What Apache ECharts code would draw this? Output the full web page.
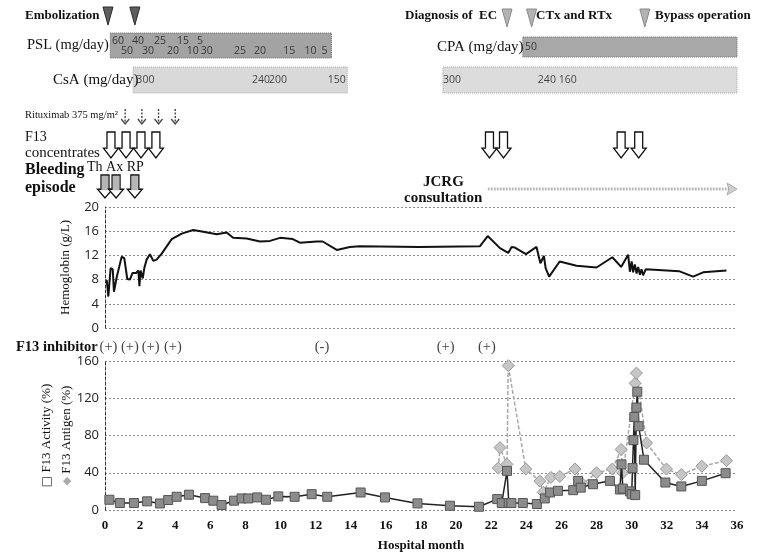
<!DOCTYPE html>
<html>
<head>
<meta charset="utf-8">
<script src="https://cdn.jsdelivr.net/npm/echarts@6/dist/echarts.min.js"></script>
<style>
  html, body { margin: 0; padding: 0; background: #fff; }
  #chart { width: 763px; height: 553px; }
</style>
</head>
<body>
<div id="chart"></div>
<script>
// ---- Clinical course data (time in hospital months) ----
const monthMin = 0, monthMax = 36, monthStep = 2;

// Hemoglobin (g/L)
const hbMonths = [0.1,0.19,0.32,0.44,0.51,0.66,0.95,1.1,1.27,1.42,1.57,1.77,1.9,1.96,2.03,2.15,2.24,2.37,2.47,2.56,2.75,2.94,3.23,3.8,4.37,5.03,5.6,6.36,6.93,7.3,8.07,8.83,9.4,9.97,10.7,11.1,12.06,12.4,13.2,13.95,14.5,17.9,21.35,21.8,22.5,22.97,23.16,23.35,23.98,24.58,24.8,24.9,25.0,25.1,25.3,25.9,26.86,28.0,28.9,29.4,29.8,29.9,30.0,30.08,30.18,30.28,30.37,30.47,30.56,30.65,30.8,32.7,33.5,34.07,35.4];
const hbValues = [7.9,5.2,9.9,9.7,6.0,8.3,11.8,11.5,8.1,8.0,9.1,9.1,9.5,6.9,9.5,8.2,9.9,11.3,11.2,12.2,11.1,11.3,12.3,14.7,15.6,16.2,15.9,15.5,15.8,14.9,14.8,14.3,14.4,14.9,14.7,14.1,14.3,14.3,12.9,13.4,13.5,13.4,13.5,15.2,13.2,12.4,13.4,13.3,12.2,13.4,10.7,10.4,11.9,9.9,8.5,11.0,10.3,10.0,11.7,10.1,12.1,9.3,11.0,9.2,10.5,9.0,10.1,8.8,9.7,8.7,9.7,9.4,8.5,9.2,9.5];

// F13 activity (%)
const actMonths = [0.25,0.85,1.65,2.4,3.13,3.6,4.08,4.78,5.7,6.17,6.64,7.35,7.78,8.16,8.67,9.17,9.87,10.8,11.77,12.66,14.56,15.95,17.8,19.65,21.3,22.34,22.6,22.9,23.0,23.15,23.8,24.6,25.05,25.35,25.8,26.67,26.95,27.1,27.8,28.76,29.33,29.42,29.5,29.9,30.0,30.05,30.1,30.15,30.2,30.27,30.32,30.4,30.7,31.92,32.83,34.0,35.35];
const actValues = [11,7.5,7.5,9.3,7,10.7,14.2,16.4,12.8,10,5.3,10,12.4,12.4,13.5,11,14.6,14.2,17,14.2,18.8,13.5,7.1,4.6,3.5,11.7,7.5,42,7.5,7.5,7.5,6.4,12.4,18.8,20.6,21.3,31.3,24,27.7,31.3,22,49,23,20,17,45,75,100,16,110,127,90,54,29.5,25.3,31.3,39.5];

// F13 antigen (%)
const agMonths = [22.4,22.5,22.9,22.97,23.97,24.77,24.96,25.4,25.9,26.77,27.2,28.0,28.9,29.4,29.5,30.2,30.27,30.85,31.98,32.83,34.0,35.4];
const agValues = [45,67,49,155,44,31,19,35,36,44,28,40,44,65,40,136,147,72,44,38,47,53];

// Events and treatments
const embolizationMonths = [0.17, 1.7];
const laterEventMonths = [22.9, 24.3, 30.75];          // diagnosis of EC, CTx and RTx, bypass operation
const pslPeriod = [0.3, 12.9];
const pslDoseMonths = [0.74,1.25,1.88,2.45,3.13,3.87,4.44,5.0,5.41,5.8,7.69,8.83,10.5,11.7,12.5];
const pslDoses = [60,50,40,30,25,20,15,10,5,30,25,20,15,10,5];
const csaPeriods = [[1.6, 13.8], [19.25, 36]];
const csaDoseMonths = [2.3, 8.88, 9.85, 13.2, 19.76, 25.17, 26.36];
const csaDoses = [300, 240, 200, 150, 300, 240, 160];
const cpaPeriod = [23.8, 36];
const cpaDoseMonths = [24.26];
const cpaDoses = [50];
const rituximabMonths = [1.15, 2.1, 3.05, 4.0];
const f13ConcMonths = [0.34, 1.2, 2.05, 2.9, 21.9, 22.7, 29.4, 30.4];
const bleedingMonths = [0, 0.63, 1.7];
const jcrgPeriod = [21.8, 36];
const inhibitorMonths = [0.2, 1.42, 2.6, 3.87, 12.36, 19.4, 21.75];
const inhibitorResults = ['(+)', '(+)', '(+)', '(+)', '(-)', '(+)', '(+)'];

// ---- Drawing ----
const SERIF = '"Liberation Serif", "DejaVu Serif", serif';
const SANS = '"Open Sans", "Liberation Sans", sans-serif';

// Row placement inside the annotation overlay (pixels from the top of the page)
const ROW = {
  darkEvent: [7, 25], lightEvent: [9, 27],
  psl: [33, 58], pslUpper: 41, pslLower: 51,
  csa: [67, 93], csaText: 80,
  cpa: [37, 57], cpaText: 47,
  rituximab: [109, 124], conc: [132, 158], bleed: [175, 198],
  jcrg: 189, inhibitor: 347
};

const pair = (xs, ys) => xs.map((x, i) => [x, ys[i]]);

function band(period, row, fill, stroke) {
  return {
    type: 'custom', xAxisIndex: 0, yAxisIndex: 0, silent: true, z: 2,
    data: [period],
    renderItem: (p, api) => {
      const a = api.coord([api.value(0), row[0]]);
      const b = api.coord([api.value(1), row[1]]);
      return { type: 'rect', shape: { x: a[0], y: a[1], width: b[0] - a[0], height: b[1] - a[1] },
               style: { fill: fill, stroke: stroke, lineWidth: 1, lineDash: [1, 1] } };
    }
  };
}

function textRow(months, texts, y, font) {
  return {
    type: 'scatter', xAxisIndex: 0, yAxisIndex: 0, silent: true, z: 5,
    symbolSize: 1, itemStyle: { color: 'rgba(0,0,0,0)' },
    data: months.map((m, i) => ({ value: [m, y], label: { formatter: String(texts[i]) } })),
    label: Object.assign({ show: true, position: 'inside' }, font)
  };
}

function triangles(months, row, fill, stroke) {
  return {
    type: 'custom', xAxisIndex: 0, yAxisIndex: 0, silent: true, z: 3,
    data: months.map(m => [m, row[0]]),
    renderItem: (p, api) => {
      const t = api.coord([api.value(0), row[0]]);
      const bY = api.coord([api.value(0), row[1]])[1];
      return { type: 'polygon',
        shape: { points: [[t[0] - 5, t[1]], [t[0] + 5, t[1]], [t[0], bY]] },
        style: { fill: fill, stroke: stroke, lineWidth: 1 } };
    }
  };
}

function blockArrows(months, row, shaftFill) {
  return {
    type: 'custom', xAxisIndex: 0, yAxisIndex: 0, silent: true, z: 3,
    data: months.map(m => [m, row[0]]),
    renderItem: (p, api) => {
      const t = api.coord([api.value(0), row[0]]);
      const x = t[0], top = t[1];
      const bottom = api.coord([api.value(0), row[1]])[1];
      const neck = bottom - (bottom - top) * 0.38;
      const children = [{ type: 'polygon',
        shape: { points: [[x - 4, top], [x + 4, top], [x + 4, neck], [x + 7.5, neck], [x, bottom], [x - 7.5, neck], [x - 4, neck]] },
        style: { fill: '#fff', stroke: '#111', lineWidth: 1.3 } }];
      if (shaftFill) {
        children.push({ type: 'rect', shape: { x: x - 3, y: top + 1, width: 6, height: neck - top },
          style: { fill: shaftFill } });
      }
      return { type: 'group', children: children };
    }
  };
}

function thinArrows(months, row) {
  return {
    type: 'custom', xAxisIndex: 0, yAxisIndex: 0, silent: true, z: 3,
    data: months.map(m => [m, row[0]]),
    renderItem: (p, api) => {
      const t = api.coord([api.value(0), row[0]]);
      const bottom = api.coord([api.value(0), row[1]])[1];
      const x = t[0];
      return { type: 'group', children: [
        { type: 'line', shape: { x1: x, y1: t[1], x2: x, y2: bottom },
          style: { stroke: '#444', lineWidth: 1.4, lineDash: [2, 1.5] } },
        { type: 'polyline', shape: { points: [[x - 4, bottom - 5], [x, bottom], [x + 4, bottom - 5]] },
          style: { stroke: '#444', lineWidth: 1.3, fill: null } }
      ] };
    }
  };
}

const jcrgArrow = {
  type: 'custom', xAxisIndex: 0, yAxisIndex: 0, silent: true, z: 3,
  data: [jcrgPeriod],
  renderItem: (p, api) => {
    const a = api.coord([api.value(0), ROW.jcrg]);
    const b = api.coord([api.value(1), ROW.jcrg]);
    return { type: 'group', children: [
      { type: 'line', shape: { x1: a[0], y1: a[1], x2: b[0] - 8, y2: b[1] },
        style: { stroke: '#bdbdbd', lineWidth: 3, lineDash: [2, 1] } },
      { type: 'polygon', shape: { points: [[b[0] - 10, b[1] - 6], [b[0], b[1]], [b[0] - 10, b[1] + 6], [b[0] - 8, b[1]]] },
        style: { fill: '#d0d0d0', stroke: '#aaa', lineWidth: 1 } }
    ] };
  }
};

const bandText = { fontFamily: SANS, fontSize: 10.5, color: '#1a1a1a' };
const pslUpperIdx = pslDoses.map((d, i) => i).filter(i => i < 9 && i % 2 === 0);
const pslLowerIdx = pslDoses.map((d, i) => i).filter(i => !(i < 9 && i % 2 === 0));

// Static caption placed with its left edge at x and vertical middle at y
const txt = (text, x, y, size, bold) => ({
  type: 'text', x: x, y: y, z: 10,
  style: { text: text, font: (bold ? 'bold ' : '') + size + 'px ' + SERIF, fill: '#111',
           verticalAlign: 'middle', textVerticalAlign: 'middle', align: 'left' }
});

const gridLine = { show: true, lineStyle: { color: '#8a8a8a', type: [2, 2], width: 1 } };
const leftAxisLine = { show: true, lineStyle: { color: '#333', type: [3, 2], width: 1 } };

const option = {
  backgroundColor: '#fff',
  animation: false,
  grid: [
    { left: 105, right: 26, top: 0, bottom: 0 },          // annotation overlay
    { left: 105, right: 26, top: 207, height: 121 },        // hemoglobin
    { left: 105, right: 26, top: 361, height: 150 }         // F13
  ],
  xAxis: [
    { gridIndex: 0, type: 'value', min: monthMin, max: monthMax, show: false },
    { gridIndex: 1, type: 'value', min: monthMin, max: monthMax, interval: monthStep,
      axisLine: { show: false }, axisTick: { show: false }, axisLabel: { show: false }, splitLine: { show: false } },
    { gridIndex: 2, type: 'value', min: monthMin, max: monthMax, interval: monthStep,
      axisLine: { show: false }, axisTick: { show: false }, splitLine: { show: false },
      axisLabel: { margin: 9, fontFamily: SERIF, fontWeight: 'bold', fontSize: 13, color: '#111' },
      name: 'Hospital month', nameLocation: 'middle', nameGap: 29, nameMoveOverlap: false,
      nameTextStyle: { fontFamily: SERIF, fontWeight: 'bold', fontSize: 13, color: '#111' } }
  ],
  yAxis: [
    { gridIndex: 0, type: 'value', min: 0, max: 553, inverse: true, show: false },
    { gridIndex: 1, type: 'value', min: 0, max: 20, interval: 4,
      axisLine: leftAxisLine, axisTick: { show: false }, splitLine: gridLine,
      axisLabel: { margin: 6, fontFamily: SANS, fontSize: 13, color: '#222' },
      name: 'Hemoglobin (g/L)', nameLocation: 'middle', nameGap: 33, nameRotate: 90, nameMoveOverlap: false,
      nameTextStyle: { fontFamily: SERIF, fontSize: 13, color: '#111' } },
    { gridIndex: 2, type: 'value', min: 0, max: 160, interval: 40,
      axisLine: leftAxisLine, axisTick: { show: false }, splitLine: gridLine,
      axisLabel: { margin: 6, fontFamily: SANS, fontSize: 13, color: '#222' },
      name: '{sq|□} F13 Activity (%)\n{dm|◆} F13 Antigen (%)', nameLocation: 'middle', nameGap: 28,
      nameRotate: 90, nameMoveOverlap: false,
      nameTextStyle: { fontFamily: SERIF, fontSize: 13, color: '#111', lineHeight: 20,
        rich: { sq: { fontFamily: '"DejaVu Sans"', fontSize: 12, color: '#333' },
                dm: { fontFamily: '"DejaVu Sans"', fontSize: 11, color: '#aaa' } } } }
  ],
  graphic: [
    txt('Embolization', 25, 16, 13, true),
    txt('Diagnosis of  EC', 405, 16, 13, true),
    txt('CTx and RTx', 536, 16, 13, true),
    txt('Bypass operation', 655, 16, 13, true),
    txt('PSL (mg/day)', 27, 45, 14.5, false),
    txt('CsA (mg/day)', 53, 80, 15, false),
    txt('CPA (mg/day)', 437, 47, 15, false),
    txt('Rituximab 375 mg/m²', 25, 115, 10.5, false),
    txt('F13', 25, 137, 14, false),
    txt('concentrates', 25, 153, 15, false),
    txt('Bleeding', 25, 170, 16, true),
    txt('episode', 25, 188, 16, true),
    txt('Th Ax RP', 87, 167, 14, false),
    txt('JCRG', 423, 182, 15, true),
    txt('consultation', 404, 198, 15, true),
    txt('F13 inhibitor', 16, 347, 14.5, true)
  ],
  series: [
    // treatment bars and annotations
    band(pslPeriod, ROW.psl, '#a3a3a3', '#666'),
    band(csaPeriods[0], ROW.csa, '#d9d9d9', '#aaa'),
    band(csaPeriods[1], ROW.csa, '#dcdcdc', '#aaa'),
    band(cpaPeriod, ROW.cpa, '#a8a8a8', '#666'),
    textRow(pslUpperIdx.map(i => pslDoseMonths[i]), pslUpperIdx.map(i => pslDoses[i]), ROW.pslUpper, bandText),
    textRow(pslLowerIdx.map(i => pslDoseMonths[i]), pslLowerIdx.map(i => pslDoses[i]), ROW.pslLower, bandText),
    textRow(csaDoseMonths, csaDoses, ROW.csaText, bandText),
    textRow(cpaDoseMonths, cpaDoses, ROW.cpaText, bandText),
    triangles(embolizationMonths, ROW.darkEvent, '#5e5e5e', '#2a2a2a'),
    triangles(laterEventMonths, ROW.lightEvent, '#b3b3b3', '#8a8a8a'),
    thinArrows(rituximabMonths, ROW.rituximab),
    blockArrows(f13ConcMonths, ROW.conc, null),
    blockArrows(bleedingMonths, ROW.bleed, '#b5b5b5'),
    jcrgArrow,
    textRow(inhibitorMonths, inhibitorResults, ROW.inhibitor,
      { fontFamily: SERIF, fontSize: 14.5, color: '#111' }),

    // hemoglobin
    { type: 'line', xAxisIndex: 1, yAxisIndex: 1, data: pair(hbMonths, hbValues),
      symbol: 'none', lineStyle: { color: '#111', width: 2 }, z: 4 },

    // F13 antigen and activity
    { type: 'line', xAxisIndex: 2, yAxisIndex: 2, data: pair(agMonths, agValues),
      symbol: 'diamond', symbolSize: 12,
      itemStyle: { color: '#c6c6c6', borderColor: '#999', borderWidth: 1 },
      lineStyle: { color: '#a8a8a8', width: 1.5, type: [4, 2] }, z: 3 },
    { type: 'line', xAxisIndex: 2, yAxisIndex: 2, data: pair(actMonths, actValues),
      symbol: 'rect', symbolSize: 9,
      itemStyle: { color: '#8c8c8c', borderColor: '#555', borderWidth: 1 },
      lineStyle: { color: '#222', width: 1.5 }, z: 4 }
  ]
};

const chart = echarts.init(document.getElementById('chart'), null, { renderer: 'canvas' });
chart.setOption(option);
</script>
</body>
</html>
